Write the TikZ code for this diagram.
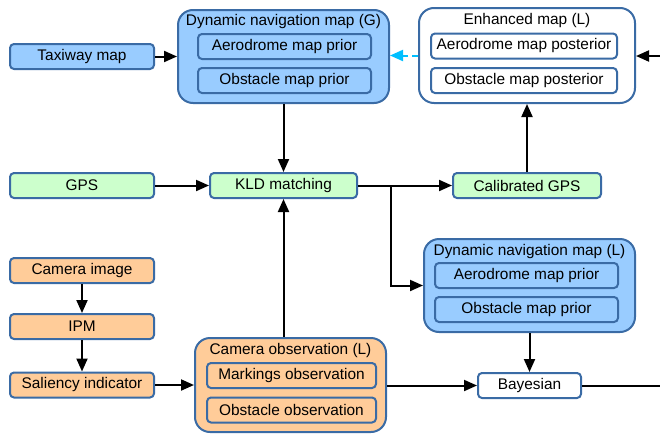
\documentclass[tikz,border=0pt]{standalone}
\usepackage{fontspec}
\setmainfont{Liberation Sans}
\usetikzlibrary{arrows.meta}

\definecolor{bluefill}{HTML}{99CCFF}
\definecolor{greenfill}{HTML}{CCFFCC}
\definecolor{orangefill}{HTML}{FFCC99}
\definecolor{edge}{HTML}{3A6BA5}
\definecolor{dashcyan}{HTML}{00BFFF}

\begin{document}
\begin{tikzpicture}[x=1pt,y=-1pt,
  every node/.style={font=\fontsize{15.4}{18}\selectfont,inner sep=0pt},
  box/.style={draw=edge,line width=2pt,rounded corners=4pt,minimum height=25pt},
  group/.style={draw=edge,line width=2pt,rounded corners=15pt},
  link/.style={line width=2pt,-{Triangle[length=13pt,width=11pt]}}]
  \useasboundingbox (0,0) rectangle (660,434);

  % left column
  \node[box,fill=bluefill,minimum width=144pt] at (82,56.5) (taxi) {Taxiway map};
  \node[box,fill=greenfill,minimum width=144pt] at (82,185.5) (gps) {GPS};
  \node[box,fill=orangefill,minimum width=144pt] at (82,270.5) (cam) {Camera image};
  \node[box,fill=orangefill,minimum width=144pt] at (82,326.5) (ipm) {IPM};
  \node[box,fill=orangefill,minimum width=144pt] at (82,385) (sal) {Saliency indicator};

  % global map
  \node[group,fill=bluefill,minimum width=211pt,minimum height=93pt] at (283.5,56.5) (dynG) {};
  \node at (283.5,22) (dynGt) {Dynamic navigation map (G)};
  \node[box,fill=bluefill,minimum width=173pt] at (284.5,46.5) (aeroG) {Aerodrome map prior};
  \node[box,fill=bluefill,minimum width=173pt] at (284.5,80.5) (obstG) {Obstacle map prior};

  \node[box,fill=greenfill,minimum width=147pt] at (283.5,185.5) (kld) {KLD matching};

  % camera observation
  \node[group,fill=orangefill,minimum width=191pt,minimum height=94pt] at (290.5,385) (camobs) {};
  \node at (290.5,351) (camobst) {Camera observation (L)};
  \node[box,fill=orangefill,minimum width=169pt] at (291.5,375.5) (mark) {Markings observation};
  \node[box,fill=orangefill,minimum width=169pt] at (291.5,410) (obsobs) {Obstacle observation};

  % enhanced map
  \node[group,fill=white,minimum width=216pt,minimum height=95pt] at (527,55.5) (enh) {};
  \node at (527,21) (enht) {Enhanced map (L)};
  \node[box,fill=white,minimum width=186pt] at (524,46) (aeroE) {Aerodrome map posterior};
  \node[box,fill=white,minimum width=186pt] at (524,80.5) (obstE) {Obstacle map posterior};

  \node[box,fill=greenfill,minimum width=148pt] at (527,185.5) (calgps) {Calibrated GPS};

  % local map
  \node[group,fill=bluefill,minimum width=211pt,minimum height=93pt] at (529.5,285.5) (dynL) {};
  \node at (529.5,252) (dynLt) {Dynamic navigation map (L)};
  \node[box,fill=bluefill,minimum width=183pt] at (526.5,275.5) (aeroL) {Aerodrome map prior};
  \node[box,fill=bluefill,minimum width=183pt] at (526.5,309.5) (obstL) {Obstacle map prior};

  \node[box,fill=white,minimum width=103pt] at (529.5,385.5) (bayes) {Bayesian};

  \coordinate (split) at (391,185.5);
  \coordinate (inE) at (660,56);
  \coordinate (outB) at (660,385.5);

  \draw[link] (taxi) -- (dynG);
  \draw[link] (dynG) -- (kld);
  \draw[link] (gps) -- (kld);
  \draw[link] (kld) -- (calgps);
  \draw[link] (split) |- (dynL.west);
  \draw[link] (calgps) -- (enh);
  \draw[link,dashcyan,dash pattern=on 6pt off 4pt] (enh.west) -- (enh.west -| dynG.east);
  \draw[link] (inE) -- (inE -| enh.east);
  \draw[link] (cam) -- (ipm);
  \draw[link] (ipm) -- (sal);
  \draw[link] (sal) -- (camobs);
  \draw[link] (kld.south |- camobs.north) -- (kld.south);
  \draw[link] (camobs.east |- bayes) -- (bayes);
  \draw[link] (dynL) -- (bayes);
  \draw[line width=2pt] (bayes) -- (outB);
\end{tikzpicture}
\end{document}
